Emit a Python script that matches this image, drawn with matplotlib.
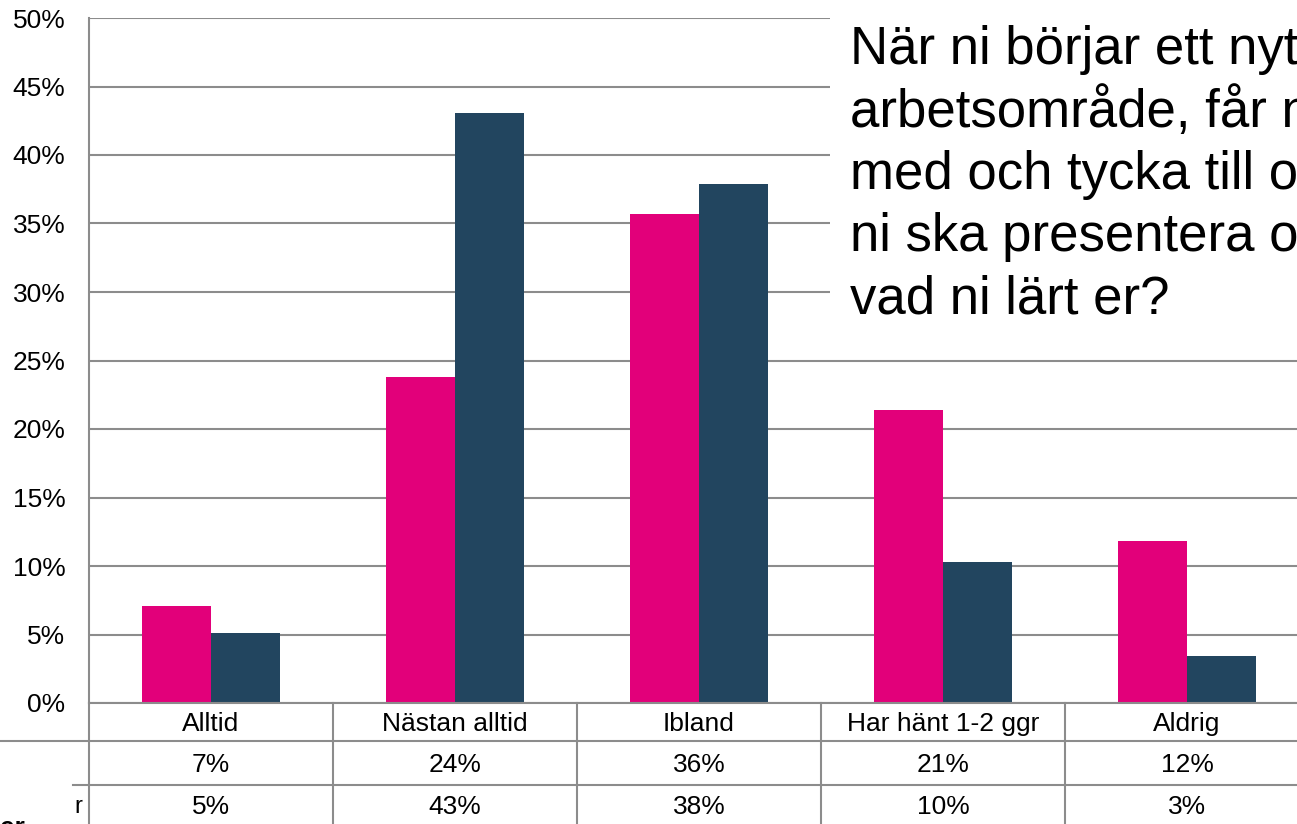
import matplotlib.pyplot as plt
import matplotlib.transforms as mtransforms
from matplotlib.patches import Rectangle
import numpy as np

plt.rcParams['font.family'] = ['Liberation Sans', 'DejaVu Sans']

categories = ["Alltid", "Nästan alltid", "Ibland", "Har hänt 1-2 ggr", "Aldrig"]
series_1 = [7.1, 23.8, 35.7, 21.4, 11.8]
series_2 = [5.1, 43.1, 37.9, 10.3, 3.4]
row_1_labels = ["7%", "24%", "36%", "21%", "12%"]
row_2_labels = ["5%", "43%", "38%", "10%", "3%"]
yticks = [0, 5, 10, 15, 20, 25, 30, 35, 40, 45, 50]

pink = "#E2007A"
navy = "#22455F"
grid = "#8C8C8C"

W, H = 1297, 824
fig = plt.figure(figsize=(W / 100, H / 100), dpi=100)


def fy(p):
    return 1 - p / H


def fx(p):
    return p / W


ax = fig.add_axes([fx(89), fy(703), fx(1309) - fx(89), fy(18) - fy(703)])

x = np.arange(len(categories))
w = 0.283
ax.bar(x - w / 2, series_1, w, color=pink, zorder=2)
ax.bar(x + w / 2, series_2, w, color=navy, zorder=2)

ax.set_xlim(-0.5, len(categories) - 0.5)
ax.set_ylim(0, 50)
ax.set_yticks(yticks)
ax.set_yticklabels([f"{v}%" for v in yticks], fontsize=19)
ax.tick_params(axis='y', length=0, pad=17)
ax.set_xticks([])
ax.yaxis.grid(True, color=grid, lw=1.5, zorder=1)
ax.set_axisbelow(True)
for s in ['top', 'right', 'bottom']:
    ax.spines[s].set_visible(False)
ax.spines['left'].set_color(grid)
ax.spines['left'].set_linewidth(1.5)

# data table below the axis
tr = mtransforms.blended_transform_factory(ax.transData, fig.transFigure)
lk = dict(color=grid, lw=1.5, clip_on=False)
ax.plot([-0.5, len(categories) - 0.5], [fy(703), fy(703)], transform=tr, **lk)
for b in np.arange(0.5, len(categories) - 0.5):
    ax.plot([b, b], [fy(703), 0], transform=tr, **lk)
fig.add_artist(plt.Line2D([fx(89), fx(89)], [fy(703), 0], color=grid, lw=1.5))
fig.add_artist(plt.Line2D([0, 1], [fy(741), fy(741)], color=grid, lw=1.5))
fig.add_artist(plt.Line2D([fx(73), 1], [fy(785), fy(785)], color=grid, lw=1.5))

for i, c in enumerate(categories):
    ax.text(i, fy(724), c, transform=tr, ha='center', va='center', fontsize=19)
    ax.text(i, fy(765), row_1_labels[i], transform=tr, ha='center', va='center', fontsize=19)
    ax.text(i, fy(807), row_2_labels[i], transform=tr, ha='center', va='center', fontsize=19)

fig.text(fx(82), fy(807), "r", ha='right', va='center', fontsize=17)
fig.text(0, fy(816), "er", ha='left', va='top', fontsize=19, fontweight='bold')

# question box
fig.add_artist(Rectangle((fx(830), fy(335)), 1 - fx(830), fy(0) - fy(335),
                         transform=fig.transFigure, facecolor='white', edgecolor='none', zorder=3))
fig.text(fx(850), fy(25),
         "När ni börjar ett nytt\narbetsområde, får ni vara\nmed och tycka till om hur\n"
         "ni ska presentera och visa\nvad ni lärt er?",
         ha='left', va='top', fontsize=38, linespacing=1.31, zorder=4)

fig.savefig("out.png", dpi=100)
